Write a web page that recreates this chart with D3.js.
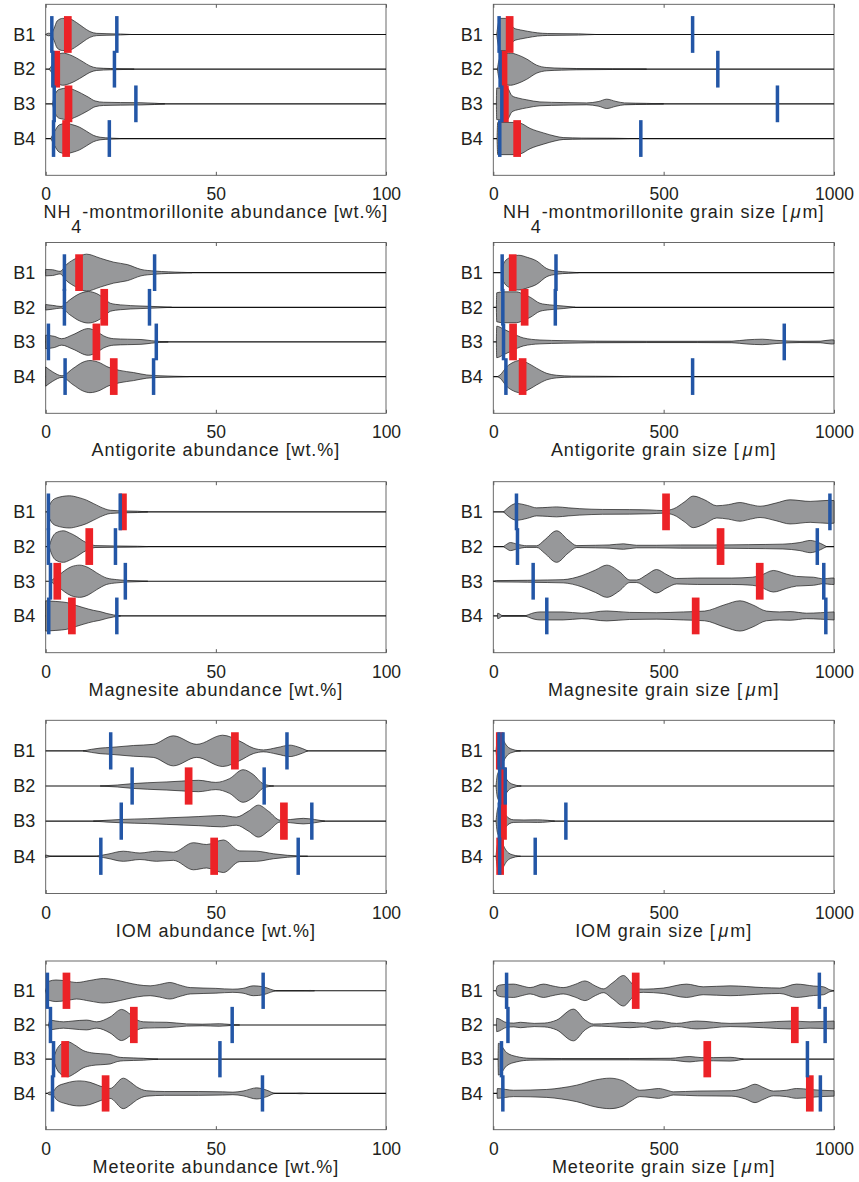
<!DOCTYPE html>
<html><head><meta charset="utf-8">
<script src="https://cdn.jsdelivr.net/npm/d3@7"></script>
<style>body{margin:0;background:#fff} svg{display:block} text{white-space:pre}</style>
</head><body><svg id="c" width="859" height="1182"></svg>
<script>
// ---------- data ----------
const categories = ["B1", "B2", "B3", "B4"];
const abundanceTicks = [0, 50, 100];
const grainTicks = [0, 500, 1000];

// density profiles: [value, relative density] per sample B1..B4
const nh4AbundanceDensity = [
  [[0,0],[0.8,0.08],[1.6,0.06],[2.4,0.35],[3.4,0.85],[5,1.0],[7,0.97],[9,0.75],[11,0.45],[13,0.18],[15,0.07],[18,0.05],[22,0.03],[25,0]],
  [[1,0],[2,0.3],[3,0.75],[5,1.0],[7,0.9],[9,0.7],[11,0.45],[13,0.2],[15,0.08],[19,0.04],[23,0.02],[26,0]],
  [[2,0],[2.8,0.6],[4,0.9],[6.5,0.98],[8.5,0.85],[10.5,0.65],[12.5,0.42],[14.5,0.18],[17,0.1],[22,0.08],[28,0.07],[32,0.04],[35,0]],
  [[1.5,0],[2.5,0.4],[4,0.85],[6,0.94],[8,0.85],[10,0.7],[12,0.45],[14,0.2],[16,0.08],[19,0.03],[22,0]]
];
const nh4AbundanceMedian = [6.5, 3.1, 6.7, 6.0];
const nh4AbundanceRange = [[1.8,20.9],[2.1,20.2],[2.5,26.5],[2.3,18.7]];

const nh4GrainDensity = [
  [[10,0],[14,0.6],[20,1.0],[35,1.0],[50,0.75],[60,0.4],[80,0.28],[100,0.2],[130,0.1],[160,0.06],[250,0.04],[300,0]],
  [[12,0],[16,0.5],[25,0.85],[50,1.0],[70,0.9],[98,0.63],[127,0.25],[157,0.1],[200,0.06],[245,0.04],[350,0.02],[450,0]],
  [[9,0],[10,0.98],[40,1.0],[55,0.5],[75,0.35],[98,0.25],[137,0.12],[205,0.08],[274,0.06],[310,0.15],[333,0.29],[360,0.15],[385,0.06],[450,0.03],[500,0]],
  [[11,0],[13,1.0],[60,1.0],[80,0.95],[108,0.63],[147,0.35],[181,0.15],[205,0.06],[260,0.03],[350,0.02],[400,0]]
];
const nh4GrainMedian = [48, 30, 34, 70];
const nh4GrainRange = [[17,585],[20,659],[25,834],[19,433]];

const antigoriteAbundanceDensity = [
  [[0,0.2],[2,0.18],[4.2,0.08],[6.2,0.52],[9,0.9],[12,1.15],[16,0.9],[20,0.65],[24,0.5],[28,0.2],[32,0.1],[36,0.05],[40,0.02],[43,0]],
  [[0,0.17],[2,0.12],[4.5,0.05],[7,0.45],[10,0.85],[12.5,0.98],[15,0.85],[17.5,0.5],[19,0.25],[22,0.15],[28,0.08],[33,0.04],[37,0]],
  [[0,0.42],[2.5,0.35],[4.7,0.2],[8,0.45],[12.5,0.83],[15,0.65],[17,0.38],[20,0.2],[24,0.17],[28,0.15],[31,0.08],[33.5,0.03],[36,0]],
  [[0,0.6],[2,0.3],[4.8,0.05],[8,0.5],[11,0.9],[13,1.0],[16,0.85],[18,0.62],[21.8,0.38],[25.8,0.25],[29.7,0.1],[33.6,0.05],[38,0.02],[42,0]]
];
const antigoriteAbundanceMedian = [9.8, 17.2, 14.9, 20.0];
const antigoriteAbundanceRange = [[5.5,32.0],[5.5,30.5],[0.8,32.5],[5.7,31.7]];

const antigoriteGrainDensity = [
  [[25,0],[30,0.55],[45,0.9],[75,1.08],[100,0.95],[127,0.73],[157,0.25],[186,0.1],[220,0.04],[250,0]],
  [[9,0],[10,0.9],[30,0.96],[68,0.96],[90,0.8],[108,0.63],[137,0.25],[166,0.15],[205,0.08],[240,0]],
  [[9,0],[10,0.98],[30,0.8],[55,0.55],[88,0.25],[137,0.12],[205,0.08],[300,0.05],[450,0.04],[600,0.04],[700,0.05],[744,0.13],[790,0.17],[830,0.1],[900,0.04],[960,0.05],[993,0.13],[1000,0.12]],
  [[12,0],[20,0.1],[39,0.6],[60,0.9],[78,1.0],[100,0.85],[127,0.52],[157,0.2],[186,0.08],[230,0.03],[300,0.02],[400,0]]
];
const antigoriteGrainMedian = [57, 92, 58, 86];
const antigoriteGrainRange = [[26,184],[28,182],[30,854],[37,585]];

const magnesiteAbundanceDensity = [
  [[0.5,0],[1.3,0.5],[3,0.85],[7,1.0],[9.5,0.9],[12,0.73],[16,0.31],[19,0.1],[23,0.06],[27,0.04],[30,0]],
  [[1,0],[1.8,0.5],[3,0.85],[5.2,0.98],[7,0.85],[9.1,0.62],[11,0.35],[13,0.15],[14.5,0.06],[20,0.04],[27,0.02],[30,0]],
  [[1.5,0],[2.3,0.15],[4,0.4],[5.5,0.65],[7.5,0.9],[10,1.0],[12.5,0.85],[15,0.52],[17.9,0.2],[20.9,0.1],[24,0.05],[28,0.02],[30,0]],
  [[0,0.94],[3,0.9],[6.2,0.83],[9,0.65],[11,0.52],[14,0.35],[16,0.27],[18,0.15],[20,0.06],[22,0]]
];
const magnesiteAbundanceMedian = [22.7, 12.8, 3.4, 7.7];
const magnesiteAbundanceRange = [[0.8,21.9],[0.8,20.5],[1.4,23.4],[0.9,20.9]];

const magnesiteGrainDensity = [
  [[30,0],[40,0.2],[68,0.52],[100,0.4],[127,0.25],[160,0.28],[186,0.31],[220,0.25],[254,0.2],[320,0.15],[400,0.14],[460,0.12],[500,0.08],[530,0.2],[560,0.6],[587,0.98],[620,0.75],[656,0.38],[690,0.45],[724,0.58],[755,0.45],[783,0.35],[830,0.55],[871,0.75],[930,0.65],[988,0.72],[1000,0.7]],
  [[30,0],[40,0.15],[50,0.25],[70,0.15],[98,0.05],[127,0.05],[150,0.4],[186,0.98],[220,0.4],[245,0.06],[300,0.08],[340,0.1],[382,0.17],[420,0.08],[480,0.08],[550,0.1],[650,0.1],[750,0.12],[850,0.15],[900,0.25],[930,0.38],[960,0.2],[978,0]],
  [[0,0],[10,0.04],[100,0.06],[160,0.08],[205,0.1],[260,0.35],[300,0.7],[333,1.0],[370,0.6],[401,0.08],[421,0.08],[450,0.4],[479,0.73],[510,0.4],[538,0.17],[600,0.2],[700,0.2],[760,0.25],[783,0.35],[822,0.67],[860,0.45],[890,0.3],[940,0.25],[970,0.15],[993,0.2],[1000,0.2]],
  [[12,0],[13,0.17],[29,0],[88,0],[120,0.2],[137,0.25],[205,0.25],[260,0.17],[333,0.31],[400,0.22],[480,0.2],[558,0.25],[620,0.3],[680,0.7],[724,0.94],[760,0.7],[802,0.3],[840,0.25],[871,0.27],[920,0.17],[960,0.2],[1000,0.25]]
];
const magnesiteGrainMedian = [507, 667, 782, 594];
const magnesiteGrainRange = [[68,988],[71,951],[117,970],[157,976]];

const iomAbundanceDensity = [
  [[11,0],[16,0.17],[19,0.21],[25.8,0.33],[31.6,0.4],[37.5,0.92],[44.4,0.4],[52,0.96],[57,0.6],[61,0.17],[64,0.06],[68,0.2],[71.8,0.35],[74,0.25],[77,0]],
  [[16,0],[21,0.06],[25.8,0.15],[30,0.2],[35.6,0.25],[40,0.3],[44.9,0.35],[50,0.22],[54,0.45],[58,1.0],[61,0.7],[64,0.12],[67,0]],
  [[14,0],[22,0.1],[30,0.15],[35.6,0.2],[45,0.28],[51.7,0.35],[56,0.25],[59.5,0.6],[62.5,0.98],[65.5,0.6],[68.9,0.06],[72,0.1],[75.7,0.17],[79,0.1],[82,0]],
  [[0,0.08],[2,0],[14,0],[18,0.12],[22.8,0.31],[27.7,0.2],[32.6,0.31],[37.5,0.25],[43.4,0.83],[47.3,0.72],[52.2,1.0],[57,0.33],[62,0.31],[67,0.15],[71,0.06],[77,0]]
];
const iomAbundanceMedian = [55.6, 42.0, 70.0, 49.5];
const iomAbundanceRange = [[19.1,70.9],[25.4,64.2],[22.2,78.2],[16.2,74.2]];

const iomGrainDensity = [
  [[8,0],[12,0.7],[20,1.0],[30,0.65],[35,0.45],[45,0.2],[55,0.1],[65,0.04],[80,0]],
  [[8,0],[12,0.7],[22,1.0],[32,0.7],[38,0.45],[48,0.2],[58,0.1],[68,0.04],[82,0]],
  [[8,0],[12,0.7],[20,1.0],[30,0.6],[36,0.4],[46,0.17],[60,0.08],[90,0.07],[130,0.08],[160,0.05],[180,0]],
  [[8,0],[12,0.7],[20,1.0],[30,0.65],[35,0.45],[45,0.2],[55,0.1],[65,0.04],[80,0]]
];
const iomGrainMedian = [19, 26, 28.5, 20];
const iomGrainRange = [[16.7,28.5],[18.7,35],[17.6,213],[18.7,123]];

const meteoriteAbundanceDensity = [
  [[0,0],[1,0.6],[3,0.68],[6,0.62],[9.1,0.52],[13,0.65],[17,0.77],[20,0.7],[23.8,0.52],[27,0.38],[30.7,0.31],[33.5,0.4],[36.5,0.52],[39.5,0.35],[42.5,0.2],[50,0.15],[55,0.1],[58,0.15],[61,0.31],[64,0.25],[66,0.1],[68,0],[76,0],[77.7,0.02],[79,0]],
  [[0.8,0],[1.3,0.3],[3,0.25],[5.2,0.2],[8,0.25],[12,0.31],[15,0.2],[18.9,0.5],[22.3,0.98],[25,0.65],[27,0.3],[28.7,0.2],[32,0.18],[35.6,0.17],[41.4,0.07],[46,0.05],[51,0.08],[55,0.02],[57,0]],
  [[2.2,0],[3,0.5],[4.5,0.95],[6.5,1.1],[8.5,0.9],[11,0.55],[13.5,0.4],[16,0.35],[18.9,0.3],[21,0.15],[22.8,0.1],[28.7,0.06],[33,0]],
  [[0.5,0],[1,0.08],[2,0.1],[3.2,0.4],[6,0.65],[10,0.79],[13,0.7],[16,0.46],[18.9,0.31],[22.8,0.96],[25,0.7],[26.7,0.42],[29.7,0.17],[35,0.12],[45,0.12],[52,0.1],[55,0.08],[58,0.15],[62,0.35],[65,0.2],[67.5,0],[73,0],[75,0.02],[77,0]]
];
const meteoriteAbundanceMedian = [6.1, 25.9, 5.7, 17.6];
const meteoriteAbundanceRange = [[0.5,63.9],[1.4,54.8],[2.3,51.2],[2.0,63.7]];

const meteoriteGrainDensity = [
  [[8,0],[12,0.3],[25,0.38],[59,0.42],[85,0.3],[108,0.2],[147,0.42],[175,0.3],[205,0.2],[240,0.4],[269,0.62],[300,0.3],[323,0.12],[350,0.5],[382,0.96],[405,0.5],[420,0.15],[440,0.1],[499,0.17],[567,0.42],[616,0.25],[695,0.31],[793,0.2],[841,0.17],[890,0.42],[940,0.3],[969,0.25],[988,0.06],[1000,0]],
  [[9,0],[10,0.42],[39,0.15],[60,0.12],[80,0.17],[120,0.1],[150,0.12],[186,0.31],[235,1.0],[270,0.3],[294,0.06],[342,0.1],[401,0.17],[440,0.12],[479,0.25],[538,0.1],[597,0.25],[695,0.1],[793,0.17],[871,0.25],[930,0.2],[1000,0.25]],
  [[14,0],[15,1.0],[39,0.42],[68,0.17],[108,0.06],[200,0.04],[400,0.04],[520,0.06],[577,0.17],[610,0.1],[646,0.1],[695,0.12],[720,0.06],[734,0]],
  [[11,0],[12,0.31],[59,0.2],[157,0.25],[200,0.35],[245,0.52],[300,0.85],[342,0.96],[380,0.8],[401,0.52],[430,0.2],[460,0.25],[485,0.31],[510,0.2],[529,0.1],[600,0.15],[700,0.17],[740,0.35],[768,0.58],[795,0.35],[822,0.15],[860,0.2],[890,0.31],[930,0.25],[960,0.2],[1000,0.17]]
];
const meteoriteGrainMedian = [418, 885, 628, 929];
const meteoriteGrainRange = [[39,957],[43,974],[24,922],[28,960]];

const titles = [
  ["NH", "4", "-montmorillonite abundance [wt.%]"],
  ["NH", "4", "-montmorillonite grain size [", "μ", "m]"],
  ["Antigorite abundance [wt.%]"],
  ["Antigorite grain size [", "μ", "m]"],
  ["Magnesite abundance [wt.%]"],
  ["Magnesite grain size [", "μ", "m]"],
  ["IOM abundance [wt.%]"],
  ["IOM grain size [", "μ", "m]"],
  ["Meteorite abundance [wt.%]"],
  ["Meteorite grain size [", "μ", "m]"]
];

// ---------- layout ----------
const panels = [
  {ticks: abundanceTicks, density: nh4AbundanceDensity, median: nh4AbundanceMedian, range: nh4AbundanceRange},
  {ticks: grainTicks, density: nh4GrainDensity, median: nh4GrainMedian, range: nh4GrainRange},
  {ticks: abundanceTicks, density: antigoriteAbundanceDensity, median: antigoriteAbundanceMedian, range: antigoriteAbundanceRange},
  {ticks: grainTicks, density: antigoriteGrainDensity, median: antigoriteGrainMedian, range: antigoriteGrainRange},
  {ticks: abundanceTicks, density: magnesiteAbundanceDensity, median: magnesiteAbundanceMedian, range: magnesiteAbundanceRange},
  {ticks: grainTicks, density: magnesiteGrainDensity, median: magnesiteGrainMedian, range: magnesiteGrainRange},
  {ticks: abundanceTicks, density: iomAbundanceDensity, median: iomAbundanceMedian, range: iomAbundanceRange},
  {ticks: grainTicks, density: iomGrainDensity, median: iomGrainMedian, range: iomGrainRange},
  {ticks: abundanceTicks, density: meteoriteAbundanceDensity, median: meteoriteAbundanceMedian, range: meteoriteAbundanceRange},
  {ticks: grainTicks, density: meteoriteGrainDensity, median: meteoriteGrainMedian, range: meteoriteGrainRange}
];

const colX = [[45.7, 386], [493.3, 834]];
const rowY = [[4.3, 175.3], [242.5, 413.3], [481.7, 652.7], [720.3, 893.5], [961, 1129.7]];
const HW = 0.464;      // violin half-width (category units) at density 1
const BAR_H = 0.53;    // marker half-height (category units)
const FONT = "'Liberation Sans', Arial, Helvetica, sans-serif";
const TXT = "#231f20";
const GRAY = "#97989a", RED = "#ec2227", BLUE = "#2356a6", AX = "#5a5a5a";

const svg = d3.select("#c");

panels.forEach((p, k) => {
  const r = Math.floor(k / 2), c = k % 2;
  const [x0, x1] = colX[c], [y0, y1] = rowY[r];
  const x = d3.scaleLinear().domain([p.ticks[0], p.ticks[p.ticks.length - 1]]).range([x0, x1]);
  const y = d3.scaleLinear().domain([0.13, 5.06]).range([y0, y1]);
  const g = svg.append("g");

  // box
  g.append("rect").attr("x", x0).attr("y", y0).attr("width", x1 - x0).attr("height", y1 - y0)
    .attr("fill", "none").attr("stroke", AX).attr("stroke-width", 0.9);

  categories.forEach((cat, i) => {
    const yc = i + 1;
    // baseline
    g.append("line").attr("x1", x(p.ticks[0])).attr("x2", x(p.ticks[2]))
      .attr("y1", y(yc)).attr("y2", y(yc)).attr("stroke", "#111").attr("stroke-width", 1.2);
    // violin
    const area = d3.area().curve(d3.curveMonotoneX)
      .x(d => x(d[0])).y0(d => y(yc - d[1] * HW)).y1(d => y(yc + d[1] * HW));
    g.append("path").datum(p.density[i]).attr("d", area)
      .attr("fill", GRAY).attr("stroke", "#1a1a1a").attr("stroke-width", 0.7);
  });

  // median (red)
  g.selectAll(null).data(p.median).join("rect")
    .attr("x", d => x(d) - 3.85).attr("width", 7.7)
    .attr("y", (d, i) => y(i + 1 - BAR_H)).attr("height", (d, i) => y(i + 1 + BAR_H) - y(i + 1 - BAR_H))
    .attr("fill", RED);
  // range (blue)
  p.range.forEach((rg, i) => {
    g.selectAll(null).data(rg).join("rect")
      .attr("x", d => x(d) - 1.75).attr("width", 3.5)
      .attr("y", y(i + 1 - BAR_H)).attr("height", y(i + 1 + BAR_H) - y(i + 1 - BAR_H))
      .attr("fill", BLUE);
  });

  // bottom axis
  const ax = g.append("g").attr("transform", `translate(0,${y1})`)
    .call(d3.axisBottom(x).tickValues(p.ticks).tickFormat(d3.format("d"))
      .tickSizeInner(-3.5).tickSizeOuter(0).tickPadding(12.6));
  ax.select(".domain").remove();
  ax.selectAll("line").attr("stroke", AX);
  ax.selectAll("text").attr("font-family", FONT).attr("font-size", 17.5).attr("fill", TXT);
  // top ticks
  const axt = g.append("g").attr("transform", `translate(0,${y0})`)
    .call(d3.axisTop(x).tickValues(p.ticks).tickSizeInner(-3.5).tickSizeOuter(0).tickFormat(""));
  axt.select(".domain").remove();
  axt.selectAll("line").attr("stroke", AX);

  // left category labels
  const yl = g.append("g").attr("transform", `translate(${x0},0)`)
    .call(d3.axisLeft(y).tickValues([1, 2, 3, 4]).tickFormat(d => categories[d - 1]).tickSize(0).tickPadding(10.5));
  yl.select(".domain").remove();
  yl.selectAll("text").attr("font-family", FONT).attr("font-size", 18).attr("fill", TXT);

  // title
  const t = g.append("text").attr("x", (x0 + x1) / 2).attr("y", y1 + 43)
    .attr("text-anchor", "middle").attr("font-family", FONT).attr("font-size", 18)
    .attr("letter-spacing", 0.9).attr("fill", TXT);
  const parts = titles[k];
  if (parts[0] === "NH") {
    t.append("tspan").text("NH");
    t.append("tspan").attr("dy", 15).text("4");
    t.append("tspan").attr("dy", -15).text(parts[2]);
    if (parts.length > 3) {
      t.append("tspan").attr("dx", 3).attr("font-style", "italic").text(parts[3]);
      t.append("tspan").attr("dx", 1).text(parts[4]);
    }
  } else if (parts.length > 1) {
    t.append("tspan").text(parts[0]);
    t.append("tspan").attr("dx", 3).attr("font-style", "italic").text(parts[1]);
    t.append("tspan").attr("dx", 1).text(parts[2]);
  } else {
    t.text(parts[0]);
  }
});
</script></body></html>
